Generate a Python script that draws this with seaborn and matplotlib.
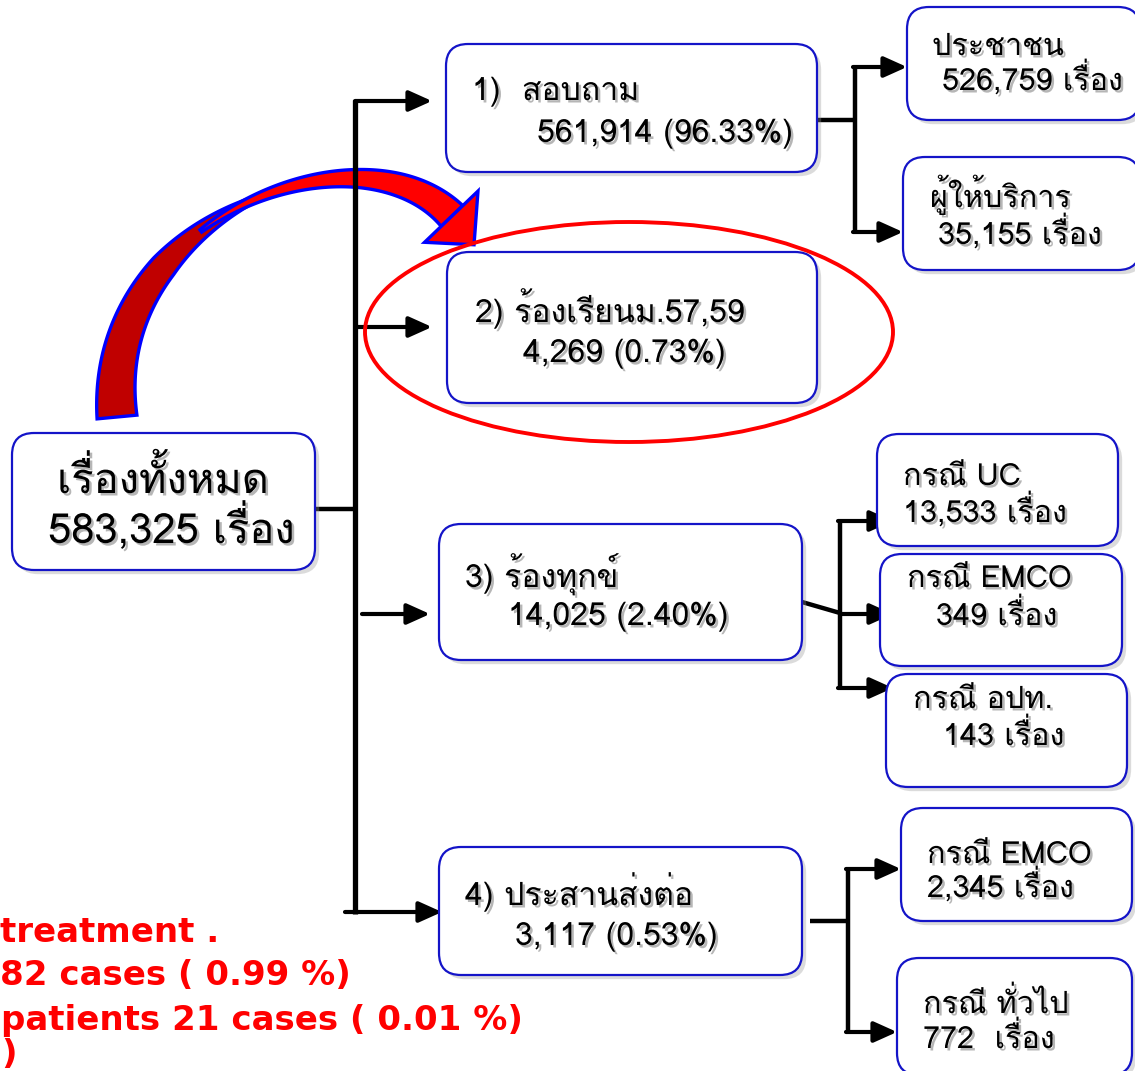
import numpy as np
import matplotlib
matplotlib.use("Agg")
import matplotlib.pyplot as plt
import matplotlib.patheffects as pe
from matplotlib.patches import FancyBboxPatch, Ellipse, Polygon
import seaborn as sns

# ---------------- data ----------------
total_label = "เรื่องทั้งหมด"
total_count = 583325
unit = "เรื่อง"

main_labels = ["1)  สอบถาม", "2) ร้องเรียนม.57,59", "3) ร้องทุกข์", "4) ประสานส่งต่อ"]
main_counts = [561914, 4269, 14025, 3117]
main_pcts = [96.33, 0.73, 2.40, 0.53]

sub_labels = ["ประชาชน", "ผู้ให้บริการ", "กรณี UC", "กรณี EMCO", "กรณี อปท.", "กรณี EMCO", "กรณี ทั่วไป"]
sub_counts = [526759, 35155, 13533, 349, 143, 2345, 772]
sub_parent = [0, 0, 2, 2, 2, 3, 3]

note_lines = ["treatment .", "82 cases ( 0.99 %)", "patients 21 cases ( 0.01 %)", ")"]

# ---------------- layout (pixels) ----------------
W, H = 1135, 1071
root_box = (12, 433, 315, 570)
main_boxes = [(446, 44, 817, 172), (447, 252, 817, 403), (439, 524, 802, 660), (439, 847, 802, 975)]
main_text_pos = [((472, 100), (537, 142)), ((475, 322), (523, 362)),
                 ((465, 587), (508, 625)), ((465, 905), (515, 945))]
sub_boxes = [(907, 7, 1140, 120), (903, 157, 1140, 270), (877, 434, 1118, 546),
             (880, 554, 1122, 666), (886, 674, 1127, 787), (901, 808, 1132, 921),
             (897, 958, 1132, 1075)]
sub_text_pos = [((932, 55), (942, 90)), ((930, 207), (938, 244)), ((903, 485), (903, 522)),
                ((907, 587), (936, 625)), ((913, 708), (943, 745)), ((927, 863), (927, 897)),
                ((923, 1013), (923, 1048))]
sub_line2_fmt = ["{:,} " + unit] * 6 + ["{:,}  " + unit]

sns.set_theme(style="white")
THAI = ["Loma", "Noto Sans Thai Looped", "DejaVu Sans"]
plt.rcParams["font.family"] = THAI

fig = plt.figure(figsize=(W / 100, H / 100), dpi=100)
ax = fig.add_axes([0, 0, 1, 1])
ax.set_xlim(0, W)
ax.set_ylim(H, 0)
ax.axis("off")

BLUE = "#1414c8"
shadow_txt = [pe.SimplePatchShadow(offset=(1.8, -1.8), shadow_rgbFace="#6f6f6f", alpha=0.5), pe.Normal()]
shadow_box = [pe.SimplePatchShadow(offset=(3, -3), shadow_rgbFace="#9a9a9a", alpha=0.35), pe.Normal()]


def box(b, z=4):
    x0, y0, x1, y1 = b
    p = FancyBboxPatch((x0, y0), x1 - x0, y1 - y0,
                       boxstyle="round,pad=0,rounding_size=22",
                       fc="white", ec=BLUE, lw=1.6, zorder=z)
    p.set_path_effects(shadow_box)
    ax.add_patch(p)


def txt(x, y, s, size, **kw):
    ax.text(x, y, s, fontsize=size, va="baseline", ha="left", color="black",
            path_effects=shadow_txt, zorder=10, **kw)


def line(xs, ys, lw=3.2):
    ax.plot(xs, ys, color="black", lw=lw, solid_capstyle="butt", zorder=3)


def arrow(x0, y, x1, lw=3.0):
    ax.annotate("", xy=(x1, y), xytext=(x0, y),
                arrowprops=dict(arrowstyle="-|>,head_length=1.0,head_width=0.45",
                                mutation_scale=14, lw=lw, color="black",
                                shrinkA=0, shrinkB=0), zorder=3)


# ---------------- curved red arrow ----------------
P = np.array([[117, 417], [98, 215], [360, 120], [452, 216]], float)
t = np.linspace(0, 1, 300)[:, None]
C = ((1 - t) ** 3) * P[0] + 3 * ((1 - t) ** 2) * t * P[1] + 3 * (1 - t) * t ** 2 * P[2] + t ** 3 * P[3]
D = 3 * ((1 - t) ** 2) * (P[1] - P[0]) + 6 * (1 - t) * t * (P[2] - P[1]) + 3 * t ** 2 * (P[3] - P[2])
D = D / np.linalg.norm(D, axis=1, keepdims=True)
N = np.column_stack([-D[:, 1], D[:, 0]])
tt = t[:, 0]


def ribbon(mask, w, color, z):
    c, n = C[mask], N[mask]
    ww = w[mask][:, None]
    outer = c + n * ww / 2
    inner = c - n * ww / 2
    poly = np.vstack([outer, inner[::-1]])
    ax.add_patch(Polygon(poly, closed=True, fc=color, ec="#0000ff", lw=2.4, zorder=z, joinstyle="miter"))


w_dark = np.interp(tt, [0, 0.3, 0.55], [40, 26, 3])
w_red = np.interp(tt, [0.4, 0.75, 1.0], [3, 18, 30])
ribbon(tt <= 0.55, w_dark, "#c00000", 1)
ribbon(tt >= 0.4, w_red, "#ff0000", 1.2)
d_end, n_end = D[-1], N[-1]
head = np.array([C[-1] + n_end * 38, C[-1] + d_end * 36 + n_end * 4, C[-1] - n_end * 36])
ax.add_patch(Polygon(head, closed=True, fc="#ff0000", ec="#0000ff", lw=2.4, zorder=1.3, joinstyle="miter"))

# ---------------- connectors ----------------
spine_x = 355
line([315, spine_x], [509, 509], lw=3.2)
line([spine_x, spine_x], [100, 914], lw=3.8)
arrow(spine_x, 101, 432)
arrow(spine_x, 327, 432)
arrow(362, 614, 430)
arrow(345, 912, 442)

line([817, 857], [120, 120])
line([855, 855], [65, 234])
arrow(853, 67, 907)
arrow(853, 232, 903)

line([802, 840], [602, 613])
line([840, 840], [519, 690])
arrow(838, 521, 893)
arrow(840, 614, 893)
arrow(838, 688, 893)

line([810, 850], [921, 921])
line([848, 848], [867, 1034])
arrow(846, 869, 901)
arrow(846, 1032, 897)

# ---------------- boxes and text ----------------
box(root_box)
txt(57, 493, total_label, 30)
txt(48, 543, f"{total_count:,} {unit}", 30)

for b, lab, cnt, pct, (p1, p2) in zip(main_boxes, main_labels, main_counts, main_pcts, main_text_pos):
    box(b)
    txt(p1[0], p1[1], lab, 23)
    txt(p2[0], p2[1], f"{cnt:,} ({pct:.2f}%)", 23)

for b, lab, cnt, fmt, (p1, p2) in zip(sub_boxes, sub_labels, sub_counts, sub_line2_fmt, sub_text_pos):
    box(b)
    txt(p1[0], p1[1], lab, 22)
    txt(p2[0], p2[1], fmt.format(cnt), 22)

# red ellipse highlighting item 2
ax.add_patch(Ellipse((629, 332), 528, 220, fill=False, ec="#ff0000", lw=2.8, zorder=6))

# red note text at bottom-left
note_y = [942, 985, 1030, 1064]
note_x = [0, 0, 1, 1]
for x, y, s in zip(note_x, note_y, note_lines):
    ax.text(x, y, s, fontsize=24.5, fontweight="bold", color="#ff0000", va="baseline", ha="left",
            family=["DejaVu Sans"], zorder=10)

fig.savefig("out.png", dpi=100)
